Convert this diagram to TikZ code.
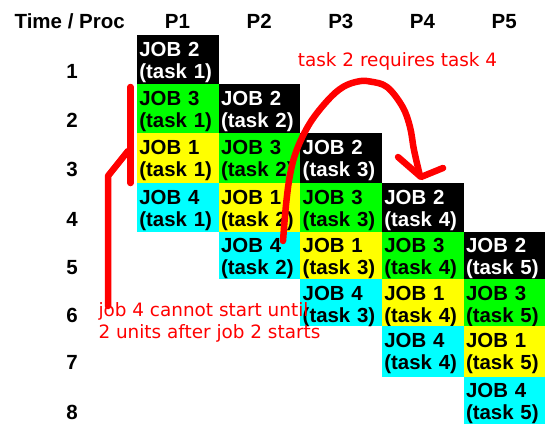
\documentclass[tikz,border=0pt]{standalone}
\usepackage{fontspec}
\setmainfont{Liberation Sans}
\newfontfamily\annfont{DejaVu Sans}
\definecolor{cgreen}{RGB}{0,255,0}
\definecolor{cyellow}{RGB}{255,255,0}
\definecolor{ccyan}{RGB}{0,255,255}
\definecolor{cred}{RGB}{255,0,0}
\begin{document}
\begin{tikzpicture}[x=1pt,y=-1pt,
  cellbox/.style={anchor=north west, inner xsep=2.5pt, inner ysep=0pt,
    minimum width=81.67pt, text width=76.67pt,
    align=left, font=\fontsize{20.4}{22}\selectfont\bfseries},
  headlbl/.style={anchor=base, inner sep=0pt, font=\fontsize{20.5}{24}\selectfont\bfseries},
  annot/.style={anchor=base west, inner sep=0pt, text=cred, align=left,
    font=\annfont\fontsize{18.4}{21.7}\selectfont},
  redline/.style={draw=cred, line width=6.5pt, line cap=round, line join=round}]
\useasboundingbox (0,0) rectangle (545,423);
\clip (0,0) rectangle (545,423);
\def\rowtops{{35,84,133,183,231.5,279,326,376.5,425.3}}
% header
\node[headlbl] (hdr) at (69.7,28.5) {Time / Proc};
\foreach \c in {1,...,5} {
  \node[headlbl] (P\c) at ({177.5+(\c-1)*81.67},28.5) {P\c};
}
\foreach \r in {1,...,8} {
  \pgfmathsetmacro\yt{\rowtops[\r-1]}
  \node[headlbl] (T\r) at (72,{\yt+43.3}) {\r};
}
% cells
\foreach \c in {1,...,5} {
  \foreach \k/\job/\col/\txt in {0/2/black/white, 1/3/cgreen/black, 2/1/cyellow/black, 3/4/ccyan/black} {
    \pgfmathtruncatemacro\r{\c+\k}
    \pgfmathsetmacro\yt{\rowtops[\r-1]}
    \pgfmathsetmacro\yd{\rowtops[\r]-\rowtops[\r-1]-43}
    \node[cellbox, fill=\col, text=\txt] (cell-\r-\c)
      at ({136.67+(\c-1)*81.67},\yt)
      {\rule{0pt}{21pt}JOB \job\\(task \c)\rule[-\yd pt]{0pt}{\yd pt}};
  }
}
% red annotations
\node[annot] (req) at (297.7,66.5) {task 2 requires task 4};
\node[annot] (cannot) at (98.3,338.5) {job 4 cannot start until\\2 units after job 2 starts};
\coordinate (barTop) at (130.5,87);
\coordinate (barBot) at (130.5,183);
\draw[redline] (barTop) -- (barBot);
\coordinate (brA) at (128,151);
\coordinate (brB) at (108,176);
\coordinate (brC) at (108,306);
\draw[redline] (brA) -- (brB) -- (brC);
\draw[redline] plot[smooth, tension=0.6] coordinates {(283,241) (286,205) (290,175) (296.7,150) (310,123) (328,100) (343,87) (358,81.5) (370,81.5) (387,87) (402.5,106.7) (410,127) (414,150) (420,176)};
\coordinate (ahL) at (398,157);
\coordinate (ahT) at (421,177);
\coordinate (ahR) at (443,168);
\draw[redline] (ahL) -- (ahT) -- (ahR);
\end{tikzpicture}
\end{document}
